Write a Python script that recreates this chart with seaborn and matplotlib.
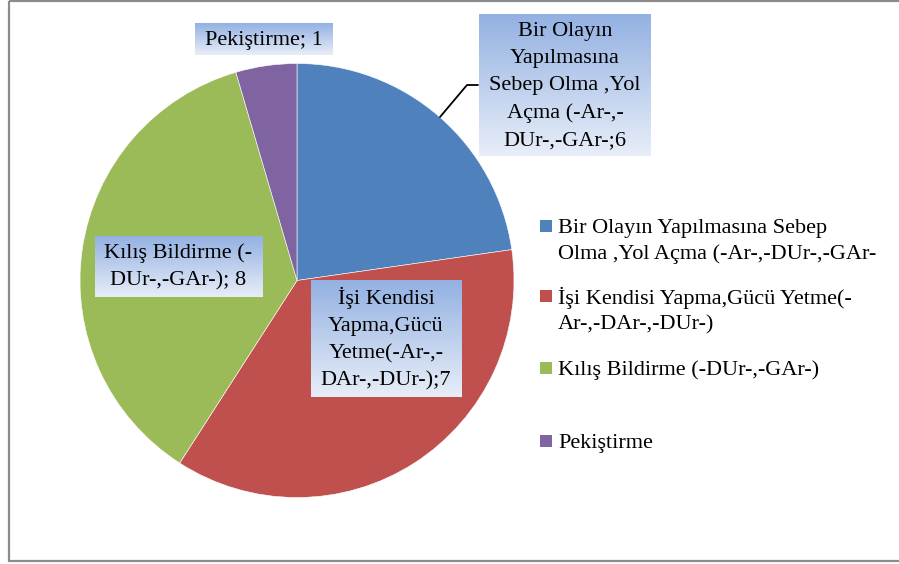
import matplotlib.pyplot as plt
import seaborn as sns
import numpy as np
from matplotlib.patches import Rectangle
from matplotlib.colors import to_rgb

# data
categories = [
    "Bir Olayın Yapılmasına Sebep Olma ,Yol Açma (-Ar-,-DUr-,-GAr-",
    "İşi Kendisi Yapma,Gücü Yetme(-Ar-,-DAr-,-DUr-)",
    "Kılış Bildirme (-DUr-,-GAr-)",
    "Pekiştirme",
]
# slice sizes as drawn in the picture (the typed labels say 6/7/8/1)
values = [5, 8, 8, 1]
colors = ["#4F81BD", "#C0504D", "#9BBB59", "#8064A2"]

# wrapped texts as they appear on the chart
data_labels = [
    "Bir Olayın\nYapılmasına\nSebep Olma ,Yol\nAçma (-Ar-,-\nDUr-,-GAr-;6",
    "İşi Kendisi\nYapma,Gücü\nYetme(-Ar-,-\nDAr-,-DUr-);7",
    "Kılış Bildirme (-\nDUr-,-GAr-); 8",
    "Pekiştirme; 1",
]
legend_labels = [
    "Bir Olayın Yapılmasına Sebep\nOlma ,Yol Açma (-Ar-,-DUr-,-GAr-",
    "İşi Kendisi Yapma,Gücü Yetme(-\nAr-,-DAr-,-DUr-)",
    "Kılış Bildirme (-DUr-,-GAr-)",
    "Pekiştirme",
]

sns.set_theme(style="white")
plt.rcParams["font.family"] = ["Liberation Serif", "DejaVu Serif"]

W, H = 899, 564
fig = plt.figure(figsize=(W / 100, H / 100), dpi=100)

# pie axes: center (297, 280), radius 217 px
cx, cy, r = 297, 280.5, 217
ax = fig.add_axes([(cx - r) / W, (H - cy - r) / H, 2 * r / W, 2 * r / H])
ax.pie(values, colors=colors, startangle=90, counterclock=False,
       wedgeprops=dict(edgecolor="white", linewidth=0.4))
ax.set_xlim(-1, 1)
ax.set_ylim(-1, 1)
ax.set_aspect("auto")

# overlay in pixel coordinates
ov = fig.add_axes([0, 0, 1, 1], facecolor="none")
ov.set_xlim(0, W)
ov.set_ylim(H, 0)
ov.axis("off")

fs = 16
label_pos = [(565, 86), (386, 339), (178.5, 267), (263.5, 40)]
top_c = np.array(to_rgb("#93B1E2"))
bot_c = np.array(to_rgb("#E8EEF8"))
grad = np.linspace(0, 1, 128)[:, None, None]
grad_img = top_c * (1 - grad) + bot_c * grad

texts = []
for lab, (x, y) in zip(data_labels, label_pos):
    t = ov.text(x, y, lab, ha="center", va="center", fontsize=fs,
                linespacing=1.57, color="black", zorder=5)
    texts.append(t)

fig.canvas.draw()
renderer = fig.canvas.get_renderer()
inv = ov.transData.inverted()
for t in texts:
    bb = t.get_window_extent(renderer)
    (x0, y1), (x1, y0) = inv.transform([[bb.x0, bb.y0], [bb.x1, bb.y1]])
    x0, x1 = x0 - 10, x1 + 10
    y0, y1 = y0 - 7, y1 + 6
    ov.imshow(grad_img, extent=(x0, x1, y1, y0), origin="upper",
              aspect="auto", zorder=4, interpolation="bilinear")

# leader line for the first label
ov.plot([478, 467, 440], [85, 85, 117], color="black", lw=1.3, zorder=3)

# legend
leg_y = [233, 303, 375, 448]  # first-line baselines
pitch = 26.5
for lab, c, y in zip(legend_labels, colors, leg_y):
    n = lab.count("\n")
    ov.add_patch(Rectangle((540, y - 13), 12, 12, facecolor=c, edgecolor="none"))
    ov.text(558, y + n * pitch, lab, ha="left", va="baseline", fontsize=fs,
            linespacing=1.46, color="black")

# outer frame
ov.add_patch(Rectangle((8.5, 0.7), 900, 560.5, facecolor="none",
                       edgecolor="#8C8C8C", lw=1.6, zorder=6))
ov.set_xlim(0, W)
ov.set_ylim(H, 0)

fig.savefig("out.png", dpi=100)
